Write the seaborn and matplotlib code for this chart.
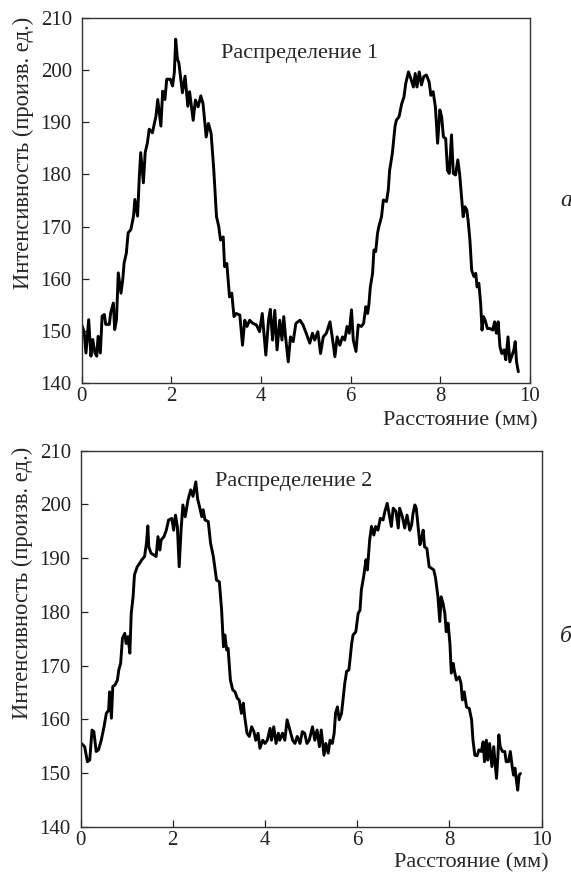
import matplotlib
matplotlib.use("Agg")
from matplotlib import pyplot as plt
import seaborn as sns

# Распределение 1 (panel а)
dist_a = [0.00, 0.02, 0.06, 0.10, 0.16, 0.21, 0.25, 0.30, 0.34, 0.37, 0.42, 0.46, 0.51, 0.54,
          0.62, 0.65, 0.71, 0.74, 0.78, 0.82, 0.88, 0.92, 0.95, 1.00, 1.04, 1.10, 1.16, 1.19,
          1.25, 1.29, 1.32, 1.38, 1.42, 1.47, 1.51, 1.58, 1.66, 1.70, 1.77, 1.81, 1.86, 1.90,
          1.98, 2.03, 2.07, 2.10, 2.14, 2.17, 2.25, 2.31, 2.37, 2.41, 2.49, 2.54, 2.60, 2.66,
          2.71, 2.78, 2.83, 2.89, 2.95, 3.01, 3.06, 3.10, 3.16, 3.19, 3.24, 3.30, 3.35, 3.40,
          3.45, 3.53, 3.59, 3.64, 3.69, 3.75, 3.82, 3.90, 3.97, 4.03, 4.11, 4.17, 4.21, 4.26,
          4.31, 4.36, 4.42, 4.47, 4.51, 4.55, 4.61, 4.66, 4.72, 4.78, 4.87, 4.94, 5.01, 5.09,
          5.15, 5.20, 5.27, 5.33, 5.39, 5.46, 5.54, 5.60, 5.65, 5.70, 5.76, 5.82, 5.87, 5.92,
          5.97, 6.02, 6.06, 6.12, 6.17, 6.24, 6.29, 6.34, 6.38, 6.41, 6.44, 6.49, 6.52, 6.56,
          6.60, 6.63, 6.69, 6.73, 6.80, 6.84, 6.87, 6.93, 6.99, 7.02, 7.08, 7.14, 7.19, 7.23,
          7.29, 7.34, 7.40, 7.44, 7.48, 7.53, 7.58, 7.63, 7.69, 7.75, 7.79, 7.84, 7.89, 7.94,
          7.99, 8.03, 8.07, 8.12, 8.16, 8.20, 8.25, 8.29, 8.34, 8.39, 8.43, 8.48, 8.51, 8.55,
          8.59, 8.62, 8.66, 8.70, 8.75, 8.79, 8.82, 8.86, 8.90, 8.93, 8.96, 9.00, 9.05, 9.11,
          9.17, 9.21, 9.25, 9.29, 9.33, 9.37, 9.42, 9.46, 9.51, 9.55, 9.60, 9.64, 9.67, 9.70,
          9.74]
intensity_a = [149.9, 150.8, 149.6, 145.7, 152.1, 145.1, 148.3, 145.7, 145.1, 148.9, 145.7, 152.8,
               153.1, 151.2, 151.2, 153.4, 155.3, 150.2, 152.1, 161.1, 157.2, 159.8, 163.0, 164.9,
               168.8, 169.4, 172.0, 175.2, 172.0, 179.7, 184.2, 178.4, 184.2, 186.1, 188.7, 188.0,
               191.2, 194.4, 189.3, 196.0, 194.4, 198.3, 198.3, 197.0, 199.6, 206.0, 202.1, 201.5,
               195.7, 198.9, 193.1, 195.9, 190.4, 194.3, 193.0, 195.1, 193.6, 187.2, 189.8, 187.9,
               180.8, 171.9, 170.0, 167.4, 168.0, 162.3, 162.9, 156.5, 157.2, 152.7, 153.3, 153.0,
               147.2, 152.0, 150.8, 152.0, 151.4, 151.1, 149.8, 153.3, 145.3, 152.0, 154.1, 148.2,
               153.9, 146.3, 152.0, 148.2, 152.7, 148.8, 144.0, 148.8, 147.9, 151.4, 152.0, 151.1,
               149.5, 147.6, 149.5, 148.2, 149.8, 145.6, 148.8, 149.5, 151.7, 148.2, 145.0, 148.8,
               147.2, 148.8, 148.2, 150.8, 149.5, 154.0, 148.2, 146.0, 151.1, 150.8, 151.4, 154.6,
               153.3, 155.2, 158.4, 161.0, 165.5, 165.2, 168.7, 170.0, 171.9, 175.1, 174.8, 177.0,
               180.8, 184.0, 189.2, 190.4, 191.1, 193.6, 194.9, 197.5, 199.7, 198.5, 196.8, 199.4,
               196.8, 199.7, 197.2, 198.8, 199.1, 197.8, 195.2, 195.9, 193.0, 186.0, 192.4, 191.1,
               187.2, 186.9, 180.8, 180.2, 187.6, 180.2, 179.9, 182.8, 180.2, 175.1, 171.9, 173.8,
               173.2, 171.2, 167.4, 161.6, 160.4, 161.0, 158.4, 159.1, 155.2, 150.1, 152.7, 152.0,
               150.4, 150.4, 150.1, 151.7, 149.5, 151.7, 146.9, 145.6, 146.3, 144.4, 148.8, 144.0,
               145.3, 146.3, 147.9, 144.0, 142.1]

# Распределение 2 (panel б)
dist_b = [0.02, 0.09, 0.15, 0.20, 0.25, 0.29, 0.34, 0.39, 0.45, 0.51, 0.56, 0.61, 0.63, 0.67,
          0.70, 0.75, 0.80, 0.83, 0.87, 0.91, 0.96, 0.99, 1.03, 1.07, 1.10, 1.14, 1.17, 1.23,
          1.28, 1.33, 1.39, 1.43, 1.46, 1.48, 1.53, 1.59, 1.64, 1.68, 1.72, 1.75, 1.81, 1.86,
          1.91, 1.98, 2.02, 2.06, 2.10, 2.14, 2.18, 2.22, 2.27, 2.33, 2.39, 2.44, 2.50, 2.54,
          2.58, 2.63, 2.66, 2.70, 2.77, 2.82, 2.88, 2.95, 3.01, 3.06, 3.10, 3.13, 3.17, 3.20,
          3.25, 3.30, 3.35, 3.40, 3.44, 3.49, 3.53, 3.56, 3.61, 3.66, 3.71, 3.76, 3.80, 3.85,
          3.89, 3.95, 4.00, 4.05, 4.11, 4.14, 4.19, 4.24, 4.29, 4.32, 4.38, 4.43, 4.48, 4.54,
          4.60, 4.65, 4.70, 4.76, 4.81, 4.86, 4.91, 4.96, 5.03, 5.08, 5.13, 5.18, 5.22, 5.28,
          5.32, 5.37, 5.41, 5.46, 5.50, 5.53, 5.57, 5.61, 5.66, 5.70, 5.73, 5.77, 5.82, 5.88,
          5.91, 5.97, 6.02, 6.06, 6.09, 6.14, 6.19, 6.22, 6.27, 6.31, 6.36, 6.40, 6.45, 6.50,
          6.56, 6.60, 6.65, 6.69, 6.74, 6.78, 6.84, 6.89, 6.92, 6.98, 7.03, 7.08, 7.14, 7.18,
          7.21, 7.25, 7.28, 7.32, 7.36, 7.39, 7.43, 7.46, 7.51, 7.56, 7.61, 7.66, 7.70, 7.75,
          7.79, 7.82, 7.86, 7.90, 7.93, 7.97, 8.01, 8.04, 8.08, 8.11, 8.15, 8.21, 8.25, 8.28,
          8.32, 8.37, 8.43, 8.48, 8.51, 8.55, 8.60, 8.64, 8.69, 8.73, 8.76, 8.80, 8.83, 8.87,
          8.92, 8.96, 8.99, 9.02, 9.05, 9.07, 9.10, 9.15, 9.20, 9.23, 9.28, 9.32, 9.36, 9.39,
          9.42, 9.45, 9.48, 9.51, 9.54]
intensity_b = [155.5, 154.9, 152.1, 152.4, 158.0, 157.7, 154.0, 154.3, 156.1, 158.6, 161.1, 161.7,
               165.1, 160.2, 166.1, 166.4, 167.3, 169.2, 170.4, 175.1, 176.0, 174.1, 175.4, 172.3,
               179.7, 182.8, 186.9, 188.4, 189.0, 189.7, 190.3, 192.8, 196.0, 192.1, 190.9, 190.6,
               190.3, 194.0, 191.5, 193.4, 194.0, 195.2, 197.1, 197.4, 195.2, 198.0, 195.9, 188.4,
               195.2, 199.9, 197.7, 200.8, 202.7, 201.5, 204.2, 201.0, 199.6, 197.7, 199.0, 197.1,
               196.8, 192.8, 190.3, 185.9, 185.6, 180.3, 173.5, 175.7, 172.9, 173.2, 167.3, 165.5,
               165.1, 163.9, 163.6, 161.1, 163.0, 160.5, 157.4, 156.8, 158.6, 157.7, 156.1, 157.4,
               154.6, 156.1, 155.5, 156.1, 158.3, 156.1, 158.6, 155.5, 157.4, 156.1, 157.4, 156.1,
               159.9, 158.0, 156.1, 155.5, 156.8, 155.5, 157.7, 157.4, 155.5, 156.1, 158.6, 156.1,
               158.0, 154.9, 158.0, 153.3, 155.5, 153.7, 156.1, 155.5, 157.4, 161.1, 162.3, 159.9,
               161.1, 164.2, 166.7, 168.9, 169.2, 174.1, 175.7, 176.3, 179.7, 180.3, 184.1, 186.6,
               189.7, 187.8, 193.4, 195.9, 194.3, 195.9, 195.2, 197.4, 197.1, 198.7, 200.2, 198.3,
               195.9, 199.3, 198.7, 195.6, 199.3, 197.7, 195.6, 198.0, 195.2, 196.2, 198.3, 199.9,
               199.3, 195.9, 192.5, 193.4, 195.2, 192.1, 191.8, 188.4, 188.1, 187.8, 186.2, 182.8,
               178.2, 182.8, 181.6, 179.7, 176.3, 177.9, 174.1, 168.6, 170.4, 168.9, 167.3, 167.9,
               166.7, 163.6, 165.1, 162.3, 162.0, 159.9, 156.1, 153.3, 153.2, 154.3, 154.0, 155.8,
               152.1, 156.1, 152.4, 155.5, 151.2, 154.9, 151.8, 149.0, 153.0, 157.1, 154.9, 154.0,
               154.0, 152.1, 152.1, 154.0, 151.2, 149.6, 150.9, 148.7, 146.8, 149.6, 149.9]

panels = [
    (dist_a, intensity_a, "Распределение 1", "а"),
    (dist_b, intensity_b, "Распределение 2", "б"),
]

sns.set_theme(style="ticks")
plt.rcParams["font.family"] = ["Liberation Serif", "DejaVu Serif"]

fig = plt.figure(figsize=(5.71, 8.74), dpi=100)

boxes = [[81.5 / 571, 491.3 / 874, 448.5 / 571, 364.4 / 874],
         [80.5 / 571, 47.3 / 874, 461.2 / 571, 376.0 / 874]]
text_pos = [(4.87, 203.3), (4.63, 204.2)]
xlabel_pos = [(1.016, -0.106), (1.014, -0.097)]
ylabel_pos = [(-0.130, 0.630), (-0.125, 0.648)]
letter_pos = [(566 / 571, 1 - 200 / 874), (566 / 571, 1 - 637 / 874)]

for i, (dist, inten, title, letter) in enumerate(panels):
    ax = fig.add_axes(boxes[i])
    sns.lineplot(x=dist, y=inten, ax=ax, color="black", linewidth=2.1,
                 estimator=None, sort=False)
    ax.set_xlim(0, 10)
    ax.set_ylim(140, 210)
    ax.set_xticks([0, 2, 4, 6, 8, 10])
    ax.set_yticks(range(140, 211, 10))
    ax.tick_params(direction="in", length=5, width=0.9, labelsize=15,
                   colors="#222222")
    ax.tick_params(axis="x", pad=3)
    ax.tick_params(axis="y", pad=7)
    for sp in ax.spines.values():
        sp.set_linewidth(1.0)
        sp.set_color("#333333")
        sp.set_visible(True)

    ax.set_ylabel("Интенсивность (произв. ед.)", fontsize=16.3)
    ax.yaxis.set_label_coords(*ylabel_pos[i])
    ax.yaxis.label.set_va("center")
    ax.set_xlabel("Расстояние (мм)", fontsize=16)
    ax.xaxis.set_label_coords(*xlabel_pos[i])
    ax.xaxis.label.set_ha("right")
    ax.xaxis.label.set_va("center")

    ax.text(text_pos[i][0], text_pos[i][1], title, fontsize=16,
            ha="center", va="center")
    fig.text(letter_pos[i][0], letter_pos[i][1], letter, fontsize=17,
             style="italic", ha="center", va="center")

fig.savefig("out.png", dpi=100, facecolor="white")
